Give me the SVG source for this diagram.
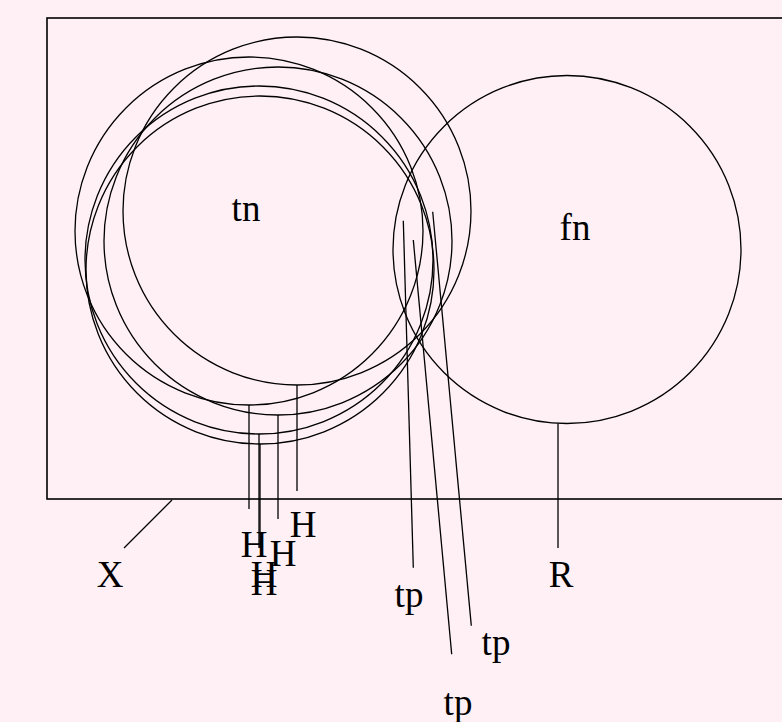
<svg xmlns="http://www.w3.org/2000/svg" width="782" height="722" viewBox="0 0 782 722">
<style>
.c{fill:none;stroke:#000;stroke-width:1.3}
.l{stroke:#000;stroke-width:1.3;fill:none}
.t{font-family:"Liberation Serif","Times New Roman",serif;font-size:37px;fill:#000;text-anchor:middle}
</style>
<rect x="0" y="0" width="782" height="722" fill="#fff0f5"/>
<g id="X">
<rect x="47" y="18" width="760" height="481" fill="none" stroke="#000" stroke-width="1.6"/>
</g>
<g id="tn1"><circle class="c" cx="297" cy="211" r="174"/></g>
<g id="tn2"><circle class="c" cx="249" cy="231" r="174"/></g>
<g id="tn3"><circle class="c" cx="278" cy="241" r="174"/></g>
<g id="tn4"><circle class="c" cx="259" cy="260" r="174"/></g>
<g id="tn5"><circle class="c" cx="260" cy="270" r="174"/></g>
<g id="fn"><circle class="c" cx="567" cy="249.5" r="174"/></g>
<g id="labels">
<text class="t" x="246" y="221">tn</text>
<text class="t" x="575" y="240">fn</text>
<text class="t" x="110" y="587">X</text>
<text class="t" x="561" y="587">R</text>
<text class="t" x="303" y="537">H</text>
<text class="t" x="254" y="557">H</text>
<text class="t" x="283" y="566">H</text>
<text class="t" x="264" y="587">H</text>
<text class="t" x="264" y="595">H</text>
<text class="t" x="409" y="607">tp</text>
<text class="t" x="458" y="715">tp</text>
<text class="t" x="496" y="655">tp</text>
</g>
<g id="connectors">
<line class="l" x1="172" y1="500" x2="124" y2="548"/>
<line class="l" x1="558" y1="423.5" x2="558" y2="548"/>
<line class="l" x1="297" y1="385" x2="297" y2="491"/>
<line class="l" x1="249" y1="405" x2="249" y2="509"/>
<line class="l" x1="278" y1="415" x2="278" y2="519"/>
<line class="l" x1="259" y1="434" x2="259" y2="548"/>
<line class="l" x1="260" y1="444" x2="260" y2="548"/>
<line class="l" x1="403.3" y1="220.7" x2="413.3" y2="567.7"/>
<line class="l" x1="413.3" y1="240" x2="451.7" y2="654.3"/>
<line class="l" x1="432.7" y1="211.7" x2="471.3" y2="625.7"/>
</g>
</svg>
